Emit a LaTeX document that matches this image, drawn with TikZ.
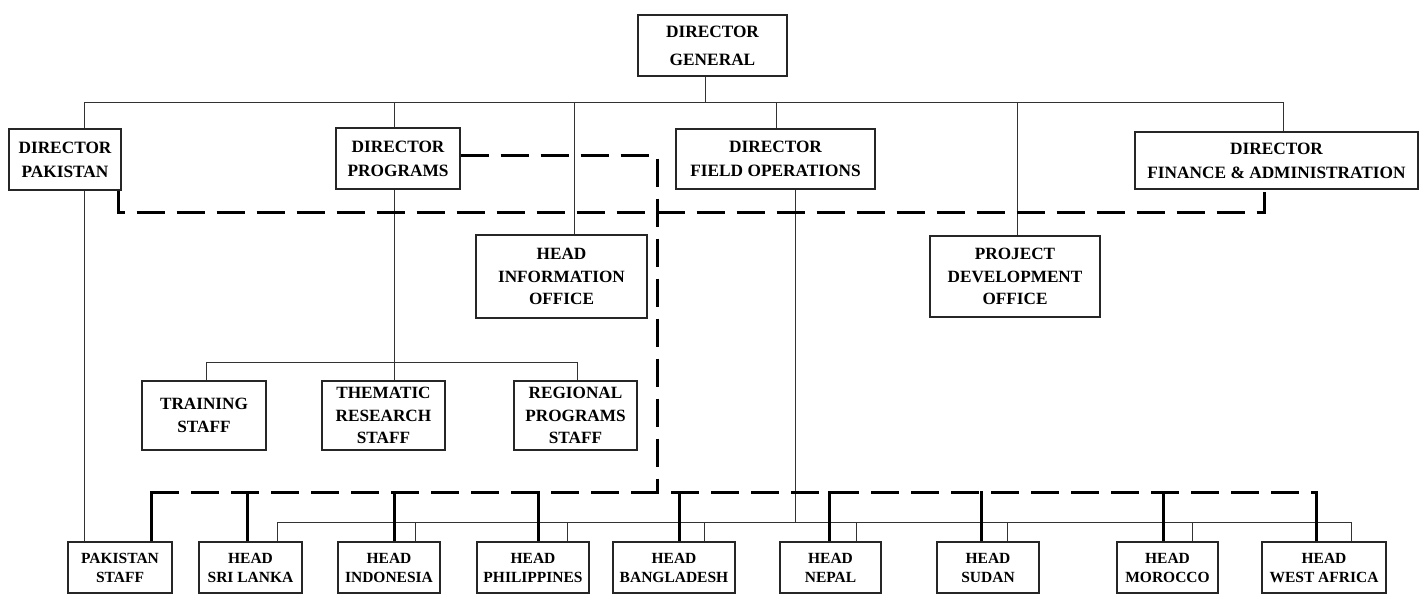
\documentclass[tikz,border=0pt]{standalone}
\usepackage{fontspec}
\setmainfont{Liberation Serif}
\begin{document}
\begin{tikzpicture}[x=1pt,y=-1pt,
  box/.style={draw=black!85, line width=1.3pt, align=center, inner sep=0pt, font=\bfseries\fontsize{17.3}{24}\selectfont},
  gbox/.style={box, font=\bfseries\fontsize{17.3}{28}\selectfont},
  mbox/.style={box, font=\bfseries\fontsize{17.2}{22.5}\selectfont},
  sbox/.style={box, font=\bfseries\fontsize{15.5}{19}\selectfont, minimum height=51pt},
  conn/.style={draw=black!80, line width=1pt},
  dline/.style={line width=3pt, dash pattern=on 28pt off 12pt},
  tline/.style={line width=3pt}]
\useasboundingbox (0,0) rectangle (1420,594);
% top level
\node[gbox, minimum width=149pt, minimum height=61pt] (dg) at (712.5,45.5) {DIRECTOR\\GENERAL};
\node[box, minimum width=112pt, minimum height=61pt] (dpk) at (65,159.5) {DIRECTOR\\PAKISTAN};
\node[box, minimum width=124pt, minimum height=61pt] (dpr) at (398,158.5) {DIRECTOR\\PROGRAMS};
\node[box, minimum width=199pt, minimum height=60pt] (dfo) at (775.5,159) {DIRECTOR\\FIELD OPERATIONS};
\node[box, minimum width=283pt, minimum height=57pt] (dfa) at (1276.5,160.5) {DIRECTOR\\FINANCE \& ADMINISTRATION};
% offices
\node[mbox, minimum width=171pt, minimum height=83pt] (hio) at (561.5,276.5) {HEAD\\INFORMATION\\OFFICE};
\node[mbox, minimum width=170pt, minimum height=81pt] (pdo) at (1015,276.5) {PROJECT\\DEVELOPMENT\\OFFICE};
% program staff
\node[mbox, minimum width=124pt, minimum height=69pt] (trn) at (204,415.5) {TRAINING\\STAFF};
\node[mbox, minimum width=123pt, minimum height=69pt] (thm) at (383.5,415.5) {THEMATIC\\RESEARCH\\STAFF};
\node[mbox, minimum width=123pt, minimum height=69pt] (reg) at (575.5,415.5) {REGIONAL\\PROGRAMS\\STAFF};
% bottom row
\node[sbox, minimum width=104pt] (pks) at (120,567.5) {PAKISTAN\\STAFF};
\node[sbox, minimum width=103pt] (hsl) at (250.5,567.5) {HEAD\\SRI LANKA};
\node[sbox, minimum width=102pt] (hid) at (389,567.5) {HEAD\\INDONESIA};
\node[sbox, minimum width=112pt] (hph) at (533,567.5) {HEAD\\PHILIPPINES};
\node[sbox, minimum width=122pt] (hbd) at (674,567.5) {HEAD\\BANGLADESH};
\node[sbox, minimum width=101pt] (hnp) at (830.5,567.5) {HEAD\\NEPAL};
\node[sbox, minimum width=102pt] (hsd) at (988,567.5) {HEAD\\SUDAN};
\node[sbox, minimum width=101pt] (hmr) at (1167.5,567.5) {HEAD\\MOROCCO};
\node[sbox, minimum width=124pt] (hwa) at (1324,567.5) {HEAD\\WEST AFRICA};

% top bus
\coordinate (tB) at ([xshift=-7pt,yshift=-26pt]dg.south);
\draw[conn] ([xshift=-7pt]dg.south) -- (tB);
\draw[conn] ([xshift=19pt]dpk.north) |- (tB);
\draw[conn] ([xshift=-4pt]dpr.north) |- (tB);
\draw[conn] ([xshift=12.5pt]hio.north) |- (tB);
\draw[conn] ([xshift=0.5pt]dfo.north) |- (tB);
\draw[conn] ([xshift=2pt]pdo.north) |- (tB);
\draw[conn] ([xshift=6.5pt]dfa.north) |- (tB);

% Pakistan line
\draw[conn] ([xshift=19pt]dpk.south) -- ([xshift=-36pt]pks.north);

% programs bus
\coordinate (pB) at ([xshift=-4pt,yshift=-173pt]dpr.south);
\draw[conn] ([xshift=-4pt]dpr.south) -- ([xshift=10.5pt]thm.north);
\draw[conn] ([xshift=2pt]trn.north) |- (pB);
\draw[conn] ([xshift=1.5pt]reg.north) |- (pB);

% field operations bus
\coordinate (fL) at ([xshift=26.5pt,yshift=19pt]hsl.north);
\draw[conn] ([xshift=19.5pt]dfo.south) |- (fL);
\draw[conn] ([xshift=26.5pt]hsl.north) |- (fL);
\draw[conn] ([xshift=26pt]hid.north) |- (fL);
\draw[conn] ([xshift=34pt]hph.north) |- (fL);
\draw[conn] ([xshift=30pt]hbd.north) |- (fL);
\draw[conn] ([xshift=25.5pt]hnp.north) |- (fL);
\draw[conn] ([xshift=19pt]hsd.north) |- (fL);
\draw[conn] ([xshift=24.5pt]hmr.north) |- (fL);
\draw[conn] ([xshift=27pt]hwa.north) |- (fL);

% dashed functional lines
\draw[dline] ([xshift=-3pt]dpk.south east) -- ++(0,22) -| ([xshift=130pt]dfa.south west);
\coordinate (dB) at ([xshift=-17pt,yshift=49pt]hbd.north);
\draw[dline] ([yshift=3.5pt]dpr.east) -| (dB);
\draw[dline] ([xshift=31pt,yshift=49pt]pks.north) -- ([xshift=-8pt,yshift=49pt]hwa.north);
\draw[tline] ([xshift=31pt]pks.north) -- ++(0,-50.5);
\draw[tline] ([xshift=-3.5pt]hsl.north) -- ++(0,-50.5);
\draw[tline] ([xshift=5pt]hid.north) -- ++(0,-50.5);
\draw[tline] ([xshift=5pt]hph.north) -- ++(0,-50.5);
\draw[tline] ([xshift=5pt]hbd.north) -- ++(0,-50.5);
\draw[tline] ([xshift=-1.5pt]hnp.north) -- ++(0,-50.5);
\draw[tline] ([xshift=-7pt]hsd.north) -- ++(0,-50.5);
\draw[tline] ([xshift=-4.5pt]hmr.north) -- ++(0,-50.5);
\draw[tline] ([xshift=-8pt]hwa.north) -- ++(0,-50.5);
\end{tikzpicture}
\end{document}
